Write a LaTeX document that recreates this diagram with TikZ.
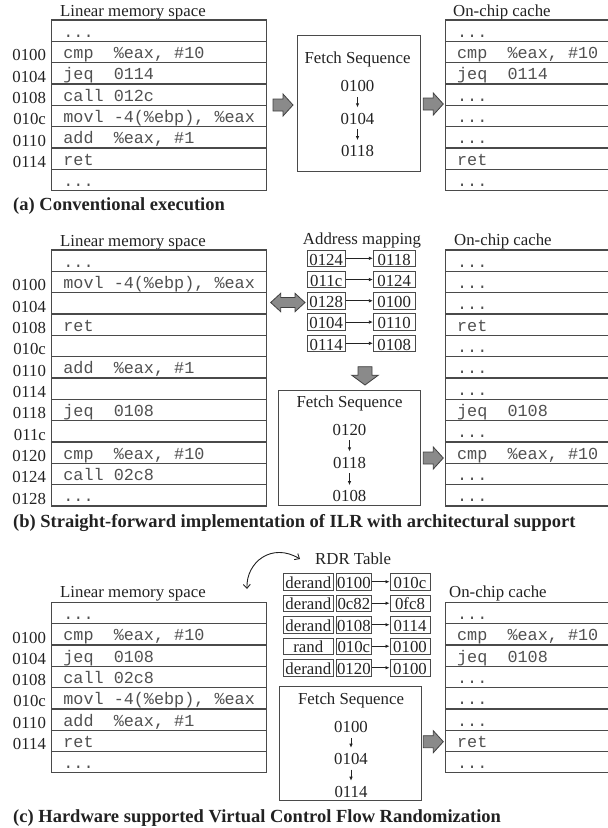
\documentclass[tikz,border=0pt]{standalone}
\usepackage{fontspec}
\setmainfont{Liberation Serif}
\setmonofont{Liberation Mono}
\usetikzlibrary{arrows.meta,calc}
\definecolor{linec}{HTML}{4A4A4A}
\definecolor{txtc}{HTML}{222222}
\definecolor{codec}{HTML}{505050}
\definecolor{fatfill}{HTML}{8A8A8A}
\definecolor{fatline}{HTML}{404040}
\newcommand\tdots{.{}.{}.}
\tikzset{
  memrow/.style={draw=linec, line width=1.1pt, minimum width=215pt, minimum height=21.33pt, inner sep=0pt},
  code/.style={font=\fontsize{16.8}{18}\ttfamily, text=codec, inner sep=0pt, text height=13.3pt, text depth=0pt, anchor=west},
  addr/.style={font=\fontsize{16.8}{18}\rmfamily, text=txtc, inner sep=0pt, text height=11.4pt, text depth=0pt, anchor=east},
  lbl/.style={font=\fontsize{16.8}{18}\rmfamily, text=txtc, inner sep=0pt, anchor=base west},
  ctrlbl/.style={font=\fontsize{16.8}{18}\rmfamily, text=txtc, inner sep=0pt, anchor=base},
  capt/.style={font=\fontsize{18.5}{20}\rmfamily\bfseries, text=txtc, inner sep=0pt, anchor=base west},
  seq/.style={font=\fontsize{16.8}{18}\rmfamily, text=txtc, inner sep=0pt, text height=11.4pt, text depth=0pt, anchor=base},
  fbox/.style={draw=linec, line width=0.9pt, inner sep=0pt},
  mbox/.style={draw=linec, line width=0.9pt, inner sep=0pt, minimum height=16.5pt, text height=13.4pt, text depth=0pt, font=\fontsize{16.8}{18}\rmfamily, text=txtc, minimum width=#1},
  seqarr/.style={-{Latex[length=4pt,width=3.5pt]}, line width=0.7pt, draw=txtc, shorten <=5pt, shorten >=5pt},
  maparr/.style={-{Latex[length=4pt,width=3.5pt]}, line width=0.7pt, draw=txtc},
  curvarr/.style={{Straight Barb[length=4pt,width=7pt]}-{Straight Barb[length=4pt,width=7pt]}, line width=0.9pt, draw=txtc},
  fatarrow/.style={draw=fatline, fill=fatfill, line width=0.8pt, line join=miter},
  fatR/.pic={\draw[fatarrow] (0,-6) -- (10,-6) -- (10,-11) -- (20,0) -- (10,11) -- (10,6) -- (0,6) -- cycle;},
  fatLR/.pic={\draw[fatarrow] (0,0) -- (10,-9.2) -- (10,-5) -- (24.3,-5) -- (24.3,-9.2) -- (34.3,0) -- (24.3,9.2) -- (24.3,5) -- (10,5) -- (10,9.2) -- cycle;},
  fatD/.pic={\draw[fatarrow] (-7,0) -- (7,0) -- (7,8.5) -- (13.3,8.5) -- (0,18.3) -- (-13.3,8.5) -- (-7,8.5) -- cycle;}
}
\begin{document}
\begin{tikzpicture}[x=1pt,y=-1pt]
\useasboundingbox (0,0) rectangle (608,828);
\clip (0,0) rectangle (608,828);

% ---------------- (a) ----------------
\node[lbl] (LA) at (60,16.5) {Linear memory space};
\foreach \t [count=\i] in {{\tdots},{cmp~~\%eax, \#10},{jeq~~0114},{call 012c},{movl -4(\%ebp), \%eax},{add~~\%eax, \#1},{ret},{\tdots}} {
  \node[memrow] (A\i) at (159.2,{20+(\i-0.5)*21.33}) {};
  \node[code] at ([xshift=12pt]A\i.west) {\t};
}
\foreach \a [count=\i from 2] in {0100,0104,0108,010c,0110,0114}
  \node[addr] at ([xshift=-5pt,yshift=-3pt]A\i.west) {\a};

\pic at (273,105) {fatR};
\node[fbox, minimum width=122.7pt, minimum height=136.7pt] (FA) at (358.6,103.3) {};
\node[ctrlbl] (FAT) at (357.5,63) {Fetch Sequence};
\node[seq] (FA1) at (357.5,91.7) {0100};
\node[seq] (FA2) at (357.5,124) {0104};
\node[seq] (FA3) at (357.5,156.7) {0118};
\draw[seqarr] (FA1) -- (FA2);
\draw[seqarr] (FA2) -- (FA3);
\pic at (423.3,104) {fatR};

\node[lbl] (CA) at (453,16.5) {On-chip cache};
\foreach \t [count=\i] in {{\tdots},{cmp~~\%eax, \#10},{jeq~~0114},{\tdots},{\tdots},{\tdots},{ret},{\tdots}} {
  \node[memrow] (CA\i) at (553,{20+(\i-0.5)*21.33}) {};
  \node[code] at ([xshift=12pt]CA\i.west) {\t};
}
\node[capt] (CAPA) at (13,210.7) {(a) Conventional execution};

% ---------------- (b) ----------------
\node[lbl] (LB) at (60,246) {Linear memory space};
\foreach \t [count=\i] in {{\tdots},{movl -4(\%ebp), \%eax},{},{ret},{},{add~~\%eax, \#1},{},{jeq~~0108},{},{cmp~~\%eax, \#10},{call 02c8},{\tdots}} {
  \node[memrow] (B\i) at (159.2,{250+(\i-0.5)*21.33}) {};
  \node[code] at ([xshift=12pt]B\i.west) {\t};
}
\foreach \a [count=\i from 2] in {0100,0104,0108,010c,0110,0114,0118,011c,0120,0124,0128}
  \node[addr] at ([xshift=-5pt,yshift=-3pt]B\i.west) {\a};

\node[ctrlbl] (AM) at (362,244) {Address mapping};
\foreach \l/\r [count=\i] in {0124/0118,011c/0124,0128/0100,0104/0110,0114/0108} {
  \node[mbox=38pt] (ML\i) at (326.2,{258.3+(\i-1)*21.25}) {\l};
  \node[mbox=41.7pt] (MR\i) at (394.2,{258.3+(\i-1)*21.25}) {\r};
  \draw[maparr] (ML\i) -- (MR\i);
}
\pic at (270.7,302.5) {fatLR};
\pic at (365,366.7) {fatD};

\node[fbox, minimum width=142.4pt, minimum height=115.7pt] (FB) at (349.5,447.85) {};
\node[ctrlbl] (FBT) at (349.5,407.5) {Fetch Sequence};
\node[seq] (FB1) at (349.5,435) {0120};
\node[seq] (FB2) at (349.5,468) {0118};
\node[seq] (FB3) at (349.5,501.7) {0108};
\draw[seqarr] (FB1) -- (FB2);
\draw[seqarr] (FB2) -- (FB3);
\pic at (423.3,458) {fatR};

\node[lbl] (CB) at (454,245) {On-chip cache};
\foreach \t [count=\i] in {{\tdots},{\tdots},{\tdots},{ret},{\tdots},{\tdots},{\tdots},{jeq~~0108},{\tdots},{cmp~~\%eax, \#10},{\tdots},{\tdots}} {
  \node[memrow] (CB\i) at (553,{250+(\i-0.5)*21.33}) {};
  \node[code] at ([xshift=12pt]CB\i.west) {\t};
}
\node[capt] (CAPB) at (13,527.5) {(b) Straight-forward implementation of ILR with architectural support};

% ---------------- (c) ----------------
\node[lbl] (LC) at (60,597.7) {Linear memory space};
\foreach \t [count=\i] in {{\tdots},{cmp~~\%eax, \#10},{jeq~~0108},{call 02c8},{movl -4(\%ebp), \%eax},{add~~\%eax, \#1},{ret},{\tdots}} {
  \node[memrow] (C\i) at (159.2,{602.3+(\i-0.5)*21.33}) {};
  \node[code] at ([xshift=12pt]C\i.west) {\t};
}
\foreach \a [count=\i from 2] in {0100,0104,0108,010c,0110,0114}
  \node[addr] at ([xshift=-5pt,yshift=-3pt]C\i.west) {\a};

\coordinate (CS) at (247,589);
\coordinate (CE) at (300,559);
\draw[curvarr] (CS) .. controls (246,562) and (272,542) .. (CE);
\node[lbl] (RDR) at (315,564.5) {RDR Table};
\foreach \k/\l/\r [count=\i] in {derand/0100/010c,derand/0c82/0fc8,derand/0108/0114,rand/010c/0100,derand/0120/0100} {
  \node[mbox=50pt] (RK\i) at (308.3,{581.7+(\i-1)*21.5}) {\k};
  \node[mbox=35.7pt] (RL\i) at (353.85,{581.7+(\i-1)*21.5}) {\l};
  \node[mbox=40pt] (RR\i) at (410,{581.7+(\i-1)*21.5}) {\r};
  \draw[maparr] (RL\i) -- (RR\i);
}

\node[fbox, minimum width=142.4pt, minimum height=114pt] (FC) at (350.5,743.7) {};
\node[ctrlbl] (FCT) at (351,704.5) {Fetch Sequence};
\node[seq] (FC1) at (351,732.7) {0100};
\node[seq] (FC2) at (351,764.3) {0104};
\node[seq] (FC3) at (351,797.3) {0114};
\draw[seqarr] (FC1) -- (FC2);
\draw[seqarr] (FC2) -- (FC3);
\pic at (423.3,741.7) {fatR};

\node[lbl] (CC) at (449,597.7) {On-chip cache};
\foreach \t [count=\i] in {{\tdots},{cmp~~\%eax, \#10},{jeq~~0108},{\tdots},{\tdots},{\tdots},{ret},{\tdots}} {
  \node[memrow] (CC\i) at (553,{602.3+(\i-0.5)*21.33}) {};
  \node[code] at ([xshift=12pt]CC\i.west) {\t};
}
\node[capt] (CAPC) at (13,822.7) {(c) Hardware supported Virtual Control Flow Randomization};
\end{tikzpicture}
\end{document}
